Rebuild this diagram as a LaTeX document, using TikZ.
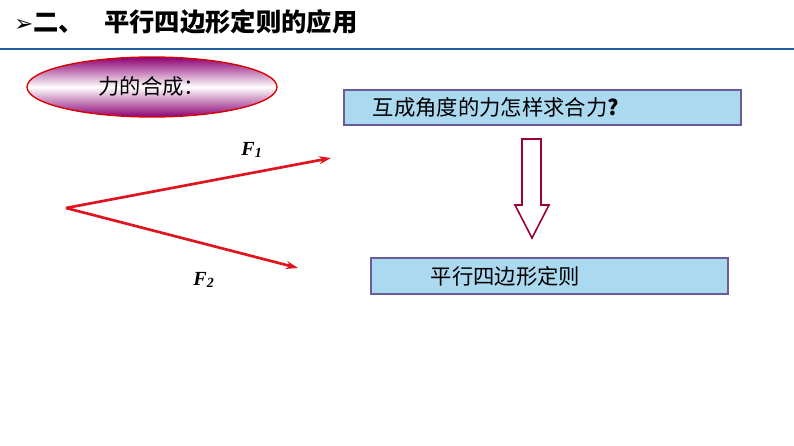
\documentclass[tikz,border=0pt]{standalone}
\usepackage{fontspec}
\setmainfont{Liberation Serif}
\newfontfamily\cjk{Noto Sans CJK SC}
\newfontfamily\dej{DejaVu Sans}
\usetikzlibrary{shapes.geometric,arrows.meta}
\definecolor{boxfill}{HTML}{ABD9F0}
\definecolor{boxline}{HTML}{6A5A9A}
\definecolor{vec}{HTML}{E0141E}
\definecolor{rule}{HTML}{1F5F9F}
\begin{document}
\begin{tikzpicture}[x=0.75pt,y=-0.75pt,
  box/.style={draw=boxline,line width=1pt,fill=boxfill},
  vecline/.style={draw=vec,line width=2pt,-{Stealth[length=9pt,width=6pt]}},
  flab/.style={font=\bfseries\itshape\fontsize{15}{15}\selectfont}]
\useasboundingbox (0,0) rectangle (794,446);
\fill[white] (0,0) rectangle (794,446);
\node[anchor=west,inner sep=0] (title) at (14,22) {\dej\fontsize{17}{17}\selectfont ➢\cjk\bfseries\fontsize{19}{19}\selectfont 二、\hspace{0.8em}平行四边形定则的应用};
\draw[rule,line width=2.2pt] (0,49) -- (794,49);
\shade[top color=violet!80!purple,bottom color=violet!80!purple,middle color=white] (152,87) ellipse [x radius=125,y radius=30];
\draw[red!85!black,line width=1pt] (152,87) ellipse [x radius=125,y radius=30];
\node (ell) at (152,86) {\cjk\fontsize{16}{16}\selectfont 力的合成：};
\draw[box] (344,90) rectangle (741,125);
\node[anchor=west] (q) at (368,107.5) {\cjk\fontsize{16}{16}\selectfont 互成角度的力怎样求合力\textbf{?}};
\draw[box] (371,258) rectangle (728,294);
\node[anchor=west] (rule2) at (426,276) {\cjk\fontsize{16}{16}\selectfont 平行四边形定则};
\draw[draw=purple!80!black,line width=1.2pt,fill=white] (522,139) -- (541,139) -- (541,205) -- (549,205) -- (532,238) -- (515,205) -- (522,205) -- cycle;
\coordinate (o) at (66,208);
\coordinate (f1) at (331,158);
\coordinate (f2) at (298,268);
\draw[vecline] (o) -- (f1);
\draw[vecline] (o) -- (f2);
\node[flab] (l1) at (252,150) {F\textsubscript{1}};
\node[flab] (l2) at (204,280) {F\textsubscript{2}};
\end{tikzpicture}
\end{document}
